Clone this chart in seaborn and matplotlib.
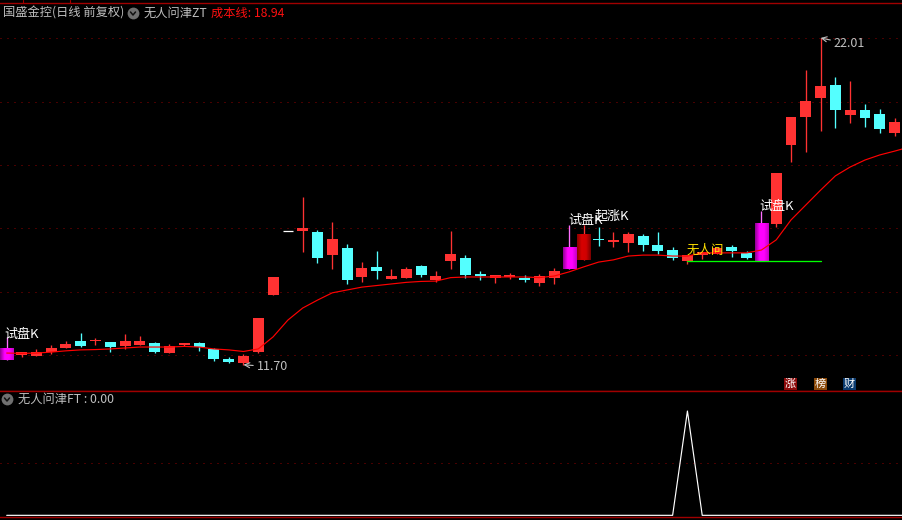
# 国盛金控 日线 K线图 + 副图 无人问津FT
import numpy as np
import matplotlib
matplotlib.use("Agg")
import matplotlib.pyplot as plt
from matplotlib.colors import LinearSegmentedColormap
import pandas as pd
import seaborn as sns

opens = [11.85, 12.02, 11.99, 12.09, 12.23, 12.44, 12.44, 12.42, 12.30, 12.33,
         12.39, 12.08, 12.33, 12.39, 12.19, 11.87, 11.76, 12.10, 13.90, 15.91,
         15.92, 15.89, 15.16, 15.39, 14.47, 14.79, 14.41, 14.44, 14.82, 14.38,
         14.97, 15.07, 14.56, 14.44, 14.48, 14.44, 14.28, 14.44, 14.72, 15.01,
         15.64, 15.57, 15.54, 15.76, 15.48, 15.32, 14.97, 15.16, 15.20, 15.42,
         15.23, 14.97, 16.14, 18.63, 19.52, 20.12, 20.53, 19.58, 19.74, 19.61,
         19.01]
closes = [12.20, 12.10, 12.11, 12.23, 12.36, 12.30, 12.45, 12.26, 12.44, 12.44,
          12.10, 12.30, 12.39, 12.26, 11.89, 11.80, 11.98, 13.18, 14.47, 15.91,
          16.02, 15.07, 15.67, 14.38, 14.75, 14.66, 14.50, 14.72, 14.53, 14.50,
          15.20, 14.53, 14.50, 14.53, 14.53, 14.38, 14.50, 14.66, 15.39, 15.83,
          15.63, 15.64, 15.83, 15.48, 15.29, 15.07, 15.16, 15.26, 15.39, 15.29,
          15.07, 16.14, 17.75, 19.52, 20.02, 20.50, 19.74, 19.74, 19.49, 19.14,
          19.36]
highs = [12.58, 12.10, 12.19, 12.32, 12.45, 12.70, 12.55, 12.42, 12.67, 12.61,
         12.41, 12.35, 12.39, 12.41, 12.23, 11.94, 12.04, 13.18, 14.47, 15.91,
         17.00, 15.94, 16.20, 15.51, 14.94, 15.29, 14.72, 14.79, 14.85, 14.66,
         15.92, 15.16, 14.66, 14.53, 14.60, 14.53, 14.56, 14.75, 16.11, 16.11,
         16.05, 15.89, 15.89, 15.83, 15.89, 15.42, 15.16, 15.26, 15.39, 15.48,
         15.29, 16.55, 17.75, 19.52, 21.00, 22.01, 20.78, 20.65, 19.93, 19.77,
         19.49]
lows = [11.85, 11.96, 11.99, 12.04, 12.23, 12.27, 12.33, 12.10, 12.21, 12.33,
        12.08, 12.06, 12.29, 12.14, 11.82, 11.77, 11.70, 12.07, 13.90, 15.91,
        15.26, 14.91, 14.72, 14.25, 14.31, 14.41, 14.41, 14.44, 14.47, 14.31,
        14.72, 14.44, 14.38, 14.28, 14.41, 14.31, 14.19, 14.25, 14.72, 15.01,
        15.45, 15.42, 15.26, 15.29, 15.20, 15.01, 14.88, 15.04, 15.20, 15.10,
        15.04, 14.97, 16.05, 18.10, 18.41, 19.08, 19.17, 19.33, 19.20, 19.01,
        18.92]
# 成本线 (dernier point hors cadre pour aller jusqu'au bord)
cost_line = [12.07, 12.06, 12.07, 12.10, 12.14, 12.17, 12.18, 12.20, 12.23, 12.26,
             12.26, 12.26, 12.28, 12.26, 12.20, 12.17, 12.12, 12.20, 12.58, 13.11,
             13.49, 13.74, 13.97, 14.06, 14.15, 14.20, 14.25, 14.30, 14.33, 14.34,
             14.45, 14.47, 14.47, 14.47, 14.47, 14.47, 14.45, 14.50, 14.63, 14.79,
             14.94, 15.01, 15.13, 15.16, 15.16, 15.13, 15.13, 15.23, 15.23, 15.23,
             15.23, 15.32, 15.64, 16.27, 16.74, 17.21, 17.66, 17.94, 18.16, 18.32,
             18.44, 18.57]
ft_values = [0] * 46 + [1] + [0] * 15

magenta_days = [0, 38, 51]
deep_red_days = [39]
support_days = [46, 55]
support_price = 14.98
price_grid = [12, 14, 16, 18, 20, 22]

BG = "#000000"
RED = "#ff3232"
CYAN = "#54ffff"
FRAME = "#a00000"
DOT = "#900000"
GRAY = "#c0c0c0"

W, H = 902, 520
sns.set_theme(style="dark", rc={"figure.facecolor": BG, "axes.facecolor": BG})
plt.rcParams["font.family"] = ["Noto Sans CJK SC", "DejaVu Sans"]

fig = plt.figure(figsize=(W / 100, H / 100), dpi=100)
ax = fig.add_axes([0, (H - 391) / H, 1, 388 / H])
ax_low = fig.add_axes([0, (H - 517) / H, 1, 126 / H])

XLIM = (-0.453, 60.5)
days = np.arange(len(opens))

# Candles
magenta_map = LinearSegmentedColormap.from_list("m", ["#98009a", "#ff00ff", "#ff00ff", "#c800c8"])
deep_map = LinearSegmentedColormap.from_list("d", ["#900000", "#d80000", "#d00000", "#800000"])
gradient = np.linspace(0, 1, 13).reshape(1, -1)

for d, o, c, hi, lo in zip(days, opens, closes, highs, lows):
    if hi == lo:
        # journée sans amplitude : simple tiret blanc
        ax.hlines(o, d - 0.34, d + 0.34, color="white", lw=0.9, snap=True, zorder=3)
        continue
    special = d in magenta_days or d in deep_red_days
    if d in magenta_days:
        wick = "#ff70ff"
    else:
        wick = RED if c >= o and not (d == 40) else CYAN
    ax.vlines(d, lo, hi, color=wick, lw=0.95, snap=True, zorder=2)
    if special:
        cmap = magenta_map if d in magenta_days else deep_map
        ax.imshow(gradient, extent=[d - 0.44, d + 0.44, o, c], aspect="auto", cmap=cmap, zorder=3)
    else:
        height = max(abs(c - o), 0.03)
        ax.bar(d, height, bottom=min(o, c), width=0.74, color=wick, linewidth=0,
               antialiased=False, zorder=3)

# Lines
cost_df = pd.DataFrame({"day": np.arange(len(cost_line)), "cost": cost_line})
sns.lineplot(data=cost_df, x="day", y="cost", ax=ax, color="#ff0000", lw=0.85, zorder=4)
support_df = pd.DataFrame({"day": support_days, "price": [support_price] * 2})
sns.lineplot(data=support_df, x="day", y="price", ax=ax, color="#00ff00", lw=0.95, zorder=4)

ax.set_xlim(*XLIM)
ax.set_ylim(10.873, 23.113)
ax.set_yticks(price_grid)
ax.set_xticks([])

ft_df = pd.DataFrame({"day": np.arange(len(ft_values)), "ft": ft_values})
sns.lineplot(data=ft_df, x="day", y="ft", ax=ax_low, color="white", lw=0.85, zorder=4)
ax_low.set_xlim(*XLIM)
ax_low.set_ylim(-0.016, 1.192)
ax_low.set_yticks([0.5])
ax_low.set_xticks([])

for a in (ax, ax_low):
    a.set_xlabel("")
    a.set_ylabel("")
    a.tick_params(left=False, bottom=False, labelleft=False, labelbottom=False)
    a.grid(axis="y", color=DOT, lw=0.72, linestyle=(0, (1, 6)))
    a.set_axisbelow(True)
    for side in ("left", "right"):
        a.spines[side].set_visible(False)
    for side in ("top", "bottom"):
        a.spines[side].set_color(FRAME)
        a.spines[side].set_linewidth(1)

# petits repères sur le cadre du haut
for x in (23, 70):
    fig.add_artist(plt.Line2D([x / W, x / W], [1, 1 - 3 / H], color=FRAME, lw=0.8))


def px_text(x, y, s, color=GRAY, size=8.8, **kw):
    fig.text(x / W, 1 - y / H, s, color=color, fontsize=size, va="center", ha="left", **kw)


def icon(x, y):
    fig.add_artist(plt.Line2D([x / W], [1 - y / H], marker="o", ms=8.5, color="#707070", mew=0))
    fig.add_artist(plt.Line2D([(x - 2.5) / W, x / W, (x + 2.5) / W],
                              [1 - (y - 1) / H, 1 - (y + 2) / H, 1 - (y - 1) / H],
                              color="#101010", lw=1.1))


# En-têtes
px_text(3, 13, "国盛金控(日线 前复权)")
icon(133, 13)
px_text(144, 13, "无人问津ZT")
px_text(211, 13, "成本线: 18.94", color="#ff1010")
icon(7, 399)
px_text(18, 399, "无人问津FT : 0.00")


# Signaux
def signal(day, price, dx, dy, s, color="white", size=9.4):
    ax.annotate(s, xy=(day, price), xytext=(dx, dy), textcoords="offset pixels",
                color=color, fontsize=size, ha="left", va="center", zorder=6)


signal(0, highs[0], -2, 2, "试盘K")
signal(38, highs[38], -1, 5, "试盘K")
signal(39, highs[39], 11, 9, "起涨K")
signal(51, highs[51], -2, 5, "试盘K")
signal(46, highs[46], -1, 5, "无人问", color="#ffe000", size=9.0)

# Extrêmes
ax.annotate("22.01", xy=(55, max(highs)), xytext=(13, -6), textcoords="offset pixels",
            color=GRAY, fontsize=9, va="center", ha="left", zorder=6,
            arrowprops=dict(arrowstyle="->", color=GRAY, lw=0.8, shrinkA=0, shrinkB=0))
ax.annotate("11.70", xy=(16, min(lows)), xytext=(13, -2), textcoords="offset pixels",
            color=GRAY, fontsize=9, va="center", ha="left", zorder=6,
            arrowprops=dict(arrowstyle="->", color=GRAY, lw=0.8, shrinkA=0, shrinkB=0))

# Badges
for x, s, col in [(790.5, "涨", "#8b0a0a"), (820.5, "榜", "#8b4a0a"), (849.5, "财", "#0a3a6e")]:
    fig.text(x / W, 1 - 384 / H, s, color="white", fontsize=8, ha="center", va="center",
             bbox=dict(boxstyle="square,pad=0.1", fc=col, ec="none"))

fig.savefig("out.png", dpi=100, facecolor=BG)
